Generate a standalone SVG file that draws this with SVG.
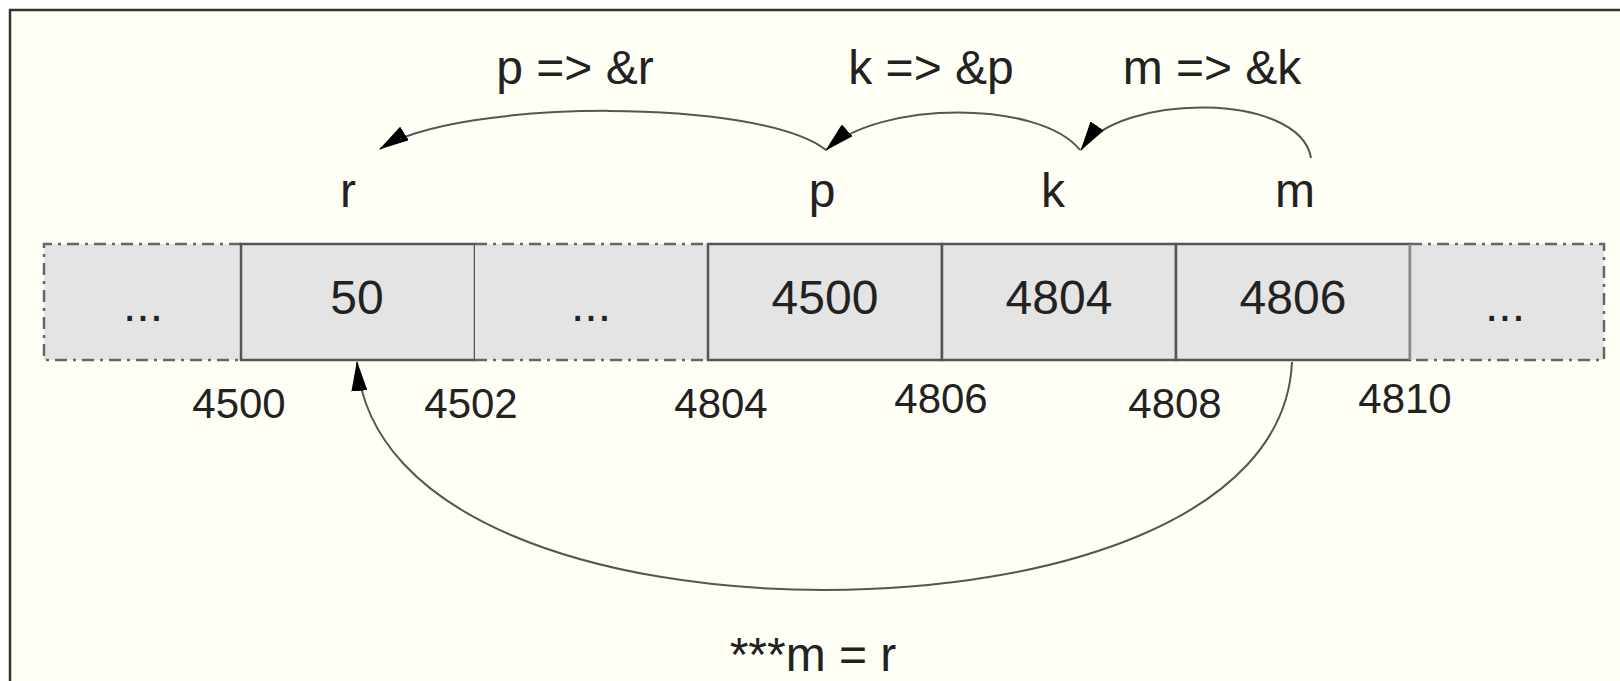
<svg xmlns="http://www.w3.org/2000/svg" width="1620" height="681" viewBox="0 0 1620 681">
<defs>
<style>
.t{font-family:"Liberation Sans",Arial,sans-serif;fill:#222;}
.big{font-size:48px;text-anchor:middle;}
.addr{font-size:42px;text-anchor:middle;}
.cell{fill:#e4e4e4;stroke:#555;stroke-width:2.5;}
.dash{fill:#e4e4e4;stroke:none;}
.dashline{fill:none;stroke:#666;stroke-width:2.5;stroke-dasharray:12 6 3 6;}
.conn{fill:none;stroke:#555;stroke-width:2;marker-end:url(#arr);}
</style>
<marker id="arr" markerUnits="userSpaceOnUse" viewBox="0 0 30 16" refX="29" refY="8" markerWidth="30" markerHeight="16" orient="auto">
<path d="M0,0 L30,8 L0,16 z" fill="#000"/>
</marker>
</defs>
<rect x="0" y="0" width="1620" height="681" fill="#ffffff"/>
<rect x="10" y="10" width="1700" height="800" fill="#fffff6" stroke="#333" stroke-width="2.5"/>

<g id="cell-left-ellipsis">
<rect class="dash" x="44" y="244" width="197" height="116"/>
<path class="dashline" d="M241,244 H44 V360 H241"/>
<text class="t big" x="143" y="321">...</text>
</g>
<g id="cell-r">
<rect class="cell" x="241" y="244" width="234" height="116"/>
<text class="t big" x="357" y="314">50</text>
</g>
<g id="cell-mid-ellipsis">
<rect class="dash" x="475" y="244" width="233" height="116"/>
<path class="dashline" d="M475,244 H708 M475,360 H708"/>
<text class="t big" x="591" y="321">...</text>
</g>
<g id="cell-p">
<rect class="cell" x="708" y="244" width="234" height="116"/>
<text class="t big" x="825" y="314">4500</text>
</g>
<g id="cell-k">
<rect class="cell" x="942" y="244" width="234" height="116"/>
<text class="t big" x="1059" y="314">4804</text>
</g>
<g id="cell-m">
<rect class="cell" x="1176" y="244" width="234" height="116"/>
<text class="t big" x="1293" y="314">4806</text>
</g>
<g id="cell-right-ellipsis">
<rect class="dash" x="1410" y="244" width="194" height="116"/>
<path class="dashline" d="M1410,244 H1604 V360 H1410"/>
<line x1="1410" y1="244" x2="1410" y2="360" stroke="#888" stroke-width="2.5"/>
<text class="t big" x="1505" y="321">...</text>
</g>

<g id="addresses">
<text class="t addr" x="239" y="418">4500</text>
<text class="t addr" x="471" y="418">4502</text>
<text class="t addr" x="721" y="418">4804</text>
<text class="t addr" x="941" y="413">4806</text>
<text class="t addr" x="1175" y="418">4808</text>
<text class="t addr" x="1405" y="413">4810</text>
</g>

<g id="var-labels">
<text class="t big" x="348" y="207">r</text>
<text class="t big" x="822" y="207">p</text>
<text class="t big" x="1053" y="207">k</text>
<text class="t big" x="1295" y="207">m</text>
</g>

<g id="connectors">
<path class="conn" d="M826,150 C760,98 460,98 380,149"/>
<path class="conn" d="M1080,150 C1040,100 880,100 826,150"/>
<path class="conn" d="M1311,158 C1300,92 1120,92 1081,150"/>
<path class="conn" d="M1292,362 C1285,520 1050,590 825,590 C600,590 370,520 357,362"/>
</g>

<g id="edge-labels">
<text class="t big" x="575" y="84">p =&gt; &amp;r</text>
<text class="t big" x="931" y="84">k =&gt; &amp;p</text>
<text class="t big" x="1212" y="84">m =&gt; &amp;k</text>
<text class="t big" x="813" y="671">***m = r</text>
</g>
</svg>
